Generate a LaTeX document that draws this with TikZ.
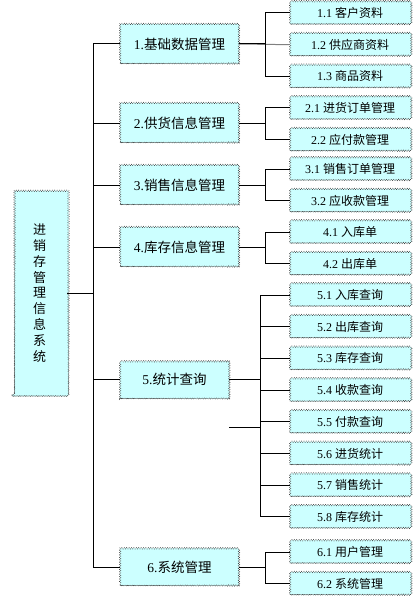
\documentclass[tikz,border=0pt]{standalone}
\usepackage{fontspec}
\setmainfont{Liberation Serif}
\newfontfamily\cjk{Noto Sans CJK SC}
\usepackage{tikz}
\usetikzlibrary{positioning, decorations.pathmorphing}
\definecolor{boxcyan}{RGB}{204,255,255}
\definecolor{boxedge}{RGB}{50,50,50}

\begin{document}
\begin{tikzpicture}[x=1pt, y=-1pt,
    frame/.style={rectangle, draw=boxedge, fill=boxcyan, line width=0.7pt, densely dotted,
                  decorate, decoration={snake, amplitude=0.6pt, segment length=2.4pt}},
    rootbox/.style={frame, minimum width=55pt, minimum height=206pt, align=center,
                  font=\fontsize{13}{15.8}\selectfont\cjk},
    module/.style={frame, minimum width=119pt, minimum height=39pt,
                  font=\fontsize{13.5}{16}\selectfont},
    sub/.style={frame, minimum width=120pt, minimum height=22pt, inner sep=1pt,
                  font=\fontsize{12}{14}\selectfont},
    link/.style={line width=1pt, black}
  ]
  \useasboundingbox (0,0) rectangle (414,599);

  % Root
  \node[rootbox] (root) at (39.5,293) {进\\销\\存\\管\\理\\信\\息\\系\\统};

  % Modules
  \node[module] (m1) at (179.5,44) {1.{\cjk 基础数据管理}};
  \node[module] (m2) at (179.5,123) {2.{\cjk 供货信息管理}};
  \node[module] (m3) at (179.5,185) {3.{\cjk 销售信息管理}};
  \node[module] (m4) at (179.5,247) {4.{\cjk 库存信息管理}};
  \node[module, minimum width=109pt] (m5) at (174.5,379) {5.{\cjk 统计查询}};
  \node[module, minimum height=37pt] (m6) at (179.5,567) {6.{\cjk 系统管理}};

  % Sub items
  \node[sub] (s11) at (350,13) {1.1 {\cjk 客户资料}};
  \node[sub, below=9pt of s11] (s12) {1.2 {\cjk 供应商资料}};
  \node[sub, below=9pt of s12] (s13) {1.3 {\cjk 商品资料}};

  \node[sub] (s21) at (350,108) {2.1 {\cjk 进货订单管理}};
  \node[sub, below=9pt of s21] (s22) {2.2 {\cjk 应付款管理}};

  \node[sub] (s31) at (350,169) {3.1 {\cjk 销售订单管理}};
  \node[sub, below=9pt of s31] (s32) {3.2 {\cjk 应收款管理}};

  \node[sub] (s41) at (350,232) {4.1 {\cjk 入库单}};
  \node[sub, below=9pt of s41] (s42) {4.2 {\cjk 出库单}};

  \node[sub] (s51) at (350,295) {5.1 {\cjk 入库查询}};
  \node[sub, below=9pt of s51] (s52) {5.2 {\cjk 出库查询}};
  \node[sub, below=9pt of s52] (s53) {5.3 {\cjk 库存查询}};
  \node[sub, below=9pt of s53] (s54) {5.4 {\cjk 收款查询}};
  \node[sub, below=9pt of s54] (s55) {5.5 {\cjk 付款查询}};
  \node[sub, below=9pt of s55] (s56) {5.6 {\cjk 进货统计}};
  \node[sub, below=9pt of s56] (s57) {5.7 {\cjk 销售统计}};
  \node[sub, below=9pt of s57] (s58) {5.8 {\cjk 库存统计}};

  \node[sub] (s61) at (350,552) {6.1 {\cjk 用户管理}};
  \node[sub, below=9pt of s61] (s62) {6.2 {\cjk 系统管理}};

  % Trunk
  \draw[link] (root.east) -- +(26,0) |- (m1.west);
  \draw[link] (root.east) -- +(26,0) |- (m2.west);
  \draw[link] (root.east) -- +(26,0) |- (m3.west);
  \draw[link] (root.east) -- +(26,0) |- (m4.west);
  \draw[link] (root.east) -- +(26,0) |- (m5.west);
  \draw[link] (root.east) -- +(26,0) |- (m6.west);

  % Branches
  \draw[link] (m1.east) -- +(26,0) |- (s11.west);
  \draw[link, gray] (m1.east) -- (s12.west);
  \draw[link] (m1.east) -- +(26,0) |- (s13.west);
  \draw[link] (m2.east) -- +(26,0) |- (s21.west);
  \draw[link] (m2.east) -- +(26,0) |- (s22.west);
  \draw[link] (m3.east) -- +(26,0) |- (s31.west);
  \draw[link] (m3.east) -- +(26,0) |- (s32.west);
  \draw[link] (m4.east) -- +(26,0) |- (s41.west);
  \draw[link] (m4.east) -- +(26,0) |- (s42.west);
  \draw[link] (m5.east) -- +(31,0) |- (s51.west);
  \draw[link] (m5.east) -- +(31,0) |- (s52.west);
  \draw[link] (m5.east) -- +(31,0) |- (s53.west);
  \draw[link] (m5.east) -- +(31,0) |- (s54.west);
  \draw[link] (m5.east) -- +(31,0) |- (s55.west);
  \draw[link] (m5.east) -- +(31,0) |- (s56.west);
  \draw[link] (m5.east) -- +(31,0) |- (s57.west);
  \draw[link] (m5.east) -- +(31,0) |- (s58.west);
  \draw[link] (m6.east) -- +(26,0) |- (s61.west);
  \draw[link] (m6.east) -- +(26,0) |- (s62.west);

  % Loose stub
  \coordinate (stub) at (229,427);
  \draw[link] (stub) -- +(31,0);
\end{tikzpicture}
\end{document}
